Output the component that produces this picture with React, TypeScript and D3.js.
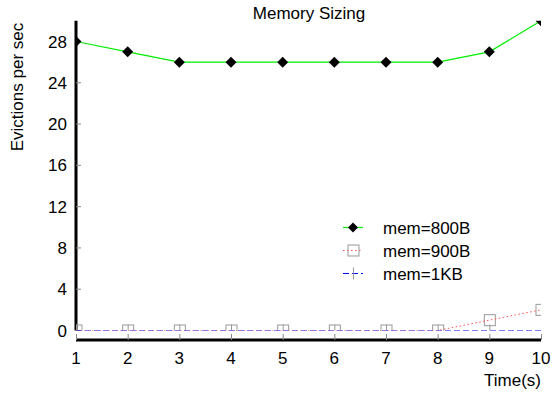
import { scaleLinear, line } from "d3";

const TIMES = [1, 2, 3, 4, 5, 6, 7, 8, 9, 10];
const MEM_800B = [28, 27, 26, 26, 26, 26, 26, 26, 27, 30];
const MEM_900B = [0, 0, 0, 0, 0, 0, 0, 0, 1, 2];
const MEM_1KB = [0, 0, 0, 0, 0, 0, 0, 0, 0, 0];
const Y_TICKS = [0, 4, 8, 12, 16, 20, 24, 28];

const FONT = "Liberation Sans, Arial, sans-serif";

export default function App() {
  const width = 552;
  const height = 393;
  const x = scaleLinear().domain([1, 10]).range([76, 541]);
  const y = scaleLinear().domain([0, 28]).range([330.5, 41.5]);
  const axisBottom = 340;

  const pts = (vals: number[]) => TIMES.map((t, i) => [t, vals[i]] as [number, number]);
  const path = line<[number, number]>()
    .x((d) => x(d[0]))
    .y((d) => y(d[1]));

  const legendX = 343;
  const legendText = 383;
  const rows = [227.5, 250.5, 273.5];

  const diamond = (cx: number, cy: number, r: number) =>
    `M${cx},${cy - r}L${cx + r},${cy}L${cx},${cy + r}L${cx - r},${cy}Z`;

  return (
    <svg
      width={width}
      height={height}
      style={{ position: "absolute", left: 0, top: 0, background: "#fff" }}
      fontFamily={FONT}
    >
      <defs>
        <clipPath id="plot">
          <rect x={x(1)} y={y(30)} width={x(10) - x(1)} height={y(0) - y(30)} />
        </clipPath>
      </defs>
      <text x={309} y={19} textAnchor="middle" fontSize={17}>
        Memory Sizing
      </text>
      <text
        transform={`translate(23,87) rotate(-90)`}
        textAnchor="middle"
        fontSize={17}
      >
        Evictions per sec
      </text>
      <text x={541} y={386} textAnchor="end" fontSize={17}>
        Time(s)
      </text>

      {/* y axis */}
      <line x1={76} x2={76} y1={y(30)} y2={y(0)} stroke="#000" strokeWidth={3} />
      {Y_TICKS.map((t) => (
        <g key={t}>
          <line x1={76} x2={81} y1={y(t)} y2={y(t)} stroke="#888" strokeWidth={1} />
          <text x={67} y={y(t) + 6} textAnchor="end" fontSize={17}>
            {t}
          </text>
        </g>
      ))}

      {/* x axis */}
      <line x1={76} x2={541} y1={axisBottom} y2={axisBottom} stroke="#000" strokeWidth={3} />
      {TIMES.map((t) => (
        <g key={t}>
          <line x1={x(t) + 0.5} x2={x(t) + 0.5} y1={axisBottom} y2={axisBottom - 6} stroke="#888" strokeWidth={1} />
          <text x={x(t)} y={axisBottom + 24} textAnchor="middle" fontSize={17}>
            {t}
          </text>
        </g>
      ))}

      <g clipPath="url(#plot)">
        {/* mem=900B markers */}
        {TIMES.map((t, i) => (
          <rect
            key={`s${t}`}
            x={x(t) - 5}
            y={y(MEM_900B[i]) - 5.5}
            width={11}
            height={11}
            fill="none"
            stroke="#999"
            strokeWidth={1}
          />
        ))}
        {/* mem=1KB markers */}
        {TIMES.map((t, i) => (
          <line
            key={`p${t}`}
            x1={x(t) + 0.5}
            x2={x(t) + 0.5}
            y1={y(MEM_1KB[i]) - 6}
            y2={y(MEM_1KB[i]) + 6}
            stroke="#999"
            strokeWidth={1}
          />
        ))}
        {/* mem=1KB */}
        <path d={path(pts(MEM_1KB)) || ""} fill="none" stroke="#0000ff" strokeWidth={1} strokeDasharray="6,3" />
        {/* mem=900B */}
        <path d={path(pts(MEM_900B)) || ""} fill="none" stroke="#ff5050" strokeWidth={1} strokeDasharray="1.5,2.5" />
        {/* mem=800B */}
        <path d={path(pts(MEM_800B)) || ""} fill="none" stroke="#00ee00" strokeWidth={1.2} />
        {TIMES.map((t, i) => (
          <path key={`d${t}`} d={diamond(x(t), y(MEM_800B[i]), 5.5)} fill="#000" />
        ))}
      </g>

      {/* legend */}
      <line x1={legendX} x2={legendX + 20} y1={rows[0]} y2={rows[0]} stroke="#00ee00" strokeWidth={1.2} />
      <path d={diamond(legendX + 10, rows[0], 5)} fill="#000" />
      <text x={legendText} y={rows[0] + 6} fontSize={17}>mem=800B</text>

      <line x1={legendX} x2={legendX + 20} y1={rows[1]} y2={rows[1]} stroke="#ff5050" strokeWidth={1} strokeDasharray="1.5,2.5" />
      <rect x={legendX + 5} y={rows[1] - 5.5} width={11} height={11} fill="none" stroke="#999" />
      <text x={legendText} y={rows[1] + 6} fontSize={17}>mem=900B</text>

      <line x1={legendX} x2={legendX + 20} y1={rows[2]} y2={rows[2]} stroke="#0000ff" strokeWidth={1} strokeDasharray="6,3" />
      <line x1={legendX + 10.5} x2={legendX + 10.5} y1={rows[2] - 6} y2={rows[2] + 6} stroke="#999" />
      <text x={legendText} y={rows[2] + 6} fontSize={17}>mem=1KB</text>
    </svg>
  );
}
